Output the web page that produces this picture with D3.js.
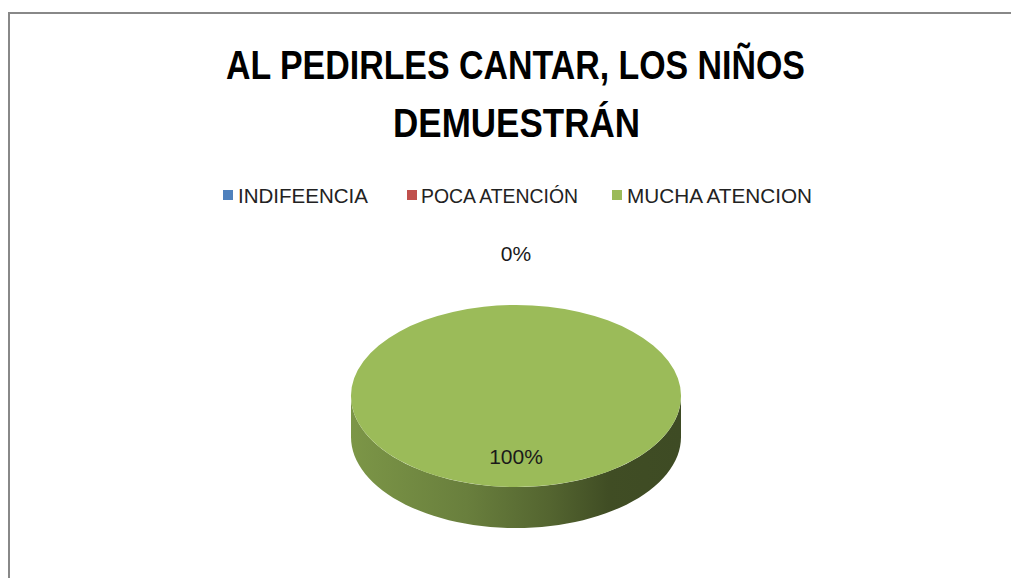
<!DOCTYPE html>
<html>
<head>
<meta charset="utf-8">
<script src="https://cdn.jsdelivr.net/npm/d3@7"></script>
<style>
  body { margin: 0; background: #fff; }
  text { font-family: "Liberation Sans Narrow", "Liberation Sans", sans-serif; }
</style>
</head>
<body>
<div class="chart"></div>
<script>
var svgWidth = 1011;
var svgHeight = 578;

// chart data
var categories = ["INDIFEENCIA", "POCA ATENCIÓN", "MUCHA ATENCION"];
var values = [0, 0, 100];
var colors = ["#4F81BD", "#C0504D", "#9BBB59"];
var titleLines = ["AL PEDIRLES CANTAR, LOS NIÑOS", "DEMUESTRÁN"];

var svg = d3.select(".chart")
  .append("svg")
  .attr("width", svgWidth)
  .attr("height", svgHeight);

svg.append("rect")
  .attr("width", svgWidth)
  .attr("height", svgHeight)
  .attr("fill", "#fff");

// frame (top and left edges only visible)
svg.append("path")
  .attr("d", "M9,578 V13 H1011")
  .attr("fill", "none")
  .attr("stroke", "#888")
  .attr("stroke-width", 2);

// title
var titleSpec = [
  { y: 79, x0: 226, x1: 805 },
  { y: 137, x0: 393, x1: 640 }
];
svg.selectAll(".title")
  .data(titleLines)
  .enter()
  .append("text")
  .attr("class", "title")
  .attr("x", (d, i) => titleSpec[i].x0)
  .attr("y", (d, i) => titleSpec[i].y)
  .attr("textLength", (d, i) => titleSpec[i].x1 - titleSpec[i].x0)
  .attr("lengthAdjust", "spacingAndGlyphs")
  .style("font-size", "41px")
  .style("font-weight", "bold")
  .attr("fill", "#000")
  .text(d => d);

// legend
var legendSpec = [
  { sx: 223, tx: 238, tw: 130 },
  { sx: 407, tx: 421, tw: 157 },
  { sx: 612, tx: 627, tw: 185 }
];
var legend = svg.append("g");
legend.selectAll("rect")
  .data(categories)
  .enter()
  .append("rect")
  .attr("x", (d, i) => legendSpec[i].sx)
  .attr("y", 190)
  .attr("width", 10)
  .attr("height", 10)
  .attr("fill", (d, i) => colors[i]);
legend.selectAll("text")
  .data(categories)
  .enter()
  .append("text")
  .attr("x", (d, i) => legendSpec[i].tx)
  .attr("y", 203)
  .attr("textLength", (d, i) => legendSpec[i].tw)
  .attr("lengthAdjust", "spacingAndGlyphs")
  .style("font-size", "21px")
  .attr("fill", "#222")
  .text(d => d);

// 3D pie geometry
var cx = 516, cy = 396, rx = 165, ry = 91, depth = 41;
var pie = d3.pie().sort(null).value(d => d);
var slices = pie(values);

// side shading: lighter on the left, dark olive on the right
var shade = [
  { o: "0%", k: 0.80 },
  { o: "35%", k: 0.68 },
  { o: "60%", k: 0.54 },
  { o: "78%", k: 0.41 },
  { o: "100%", k: 0.40 }
];
var defs = svg.append("defs");
colors.forEach(function (c, i) {
  var base = d3.rgb(c);
  var g = defs.append("linearGradient")
    .attr("id", "side" + i)
    .attr("gradientUnits", "userSpaceOnUse")
    .attr("x1", cx - rx).attr("x2", cx + rx)
    .attr("y1", 0).attr("y2", 0);
  shade.forEach(function (s) {
    g.append("stop")
      .attr("offset", s.o)
      .attr("stop-color", d3.rgb(base.r * s.k, base.g * s.k, base.b * s.k));
  });
});

function pt(a, dy) {
  return [cx + rx * Math.sin(a), cy - ry * Math.cos(a) + (dy || 0)];
}

// side walls: only the front half (angles between pi/2 and 3pi/2) is visible
var sides = svg.append("g");
slices.forEach(function (s, i) {
  var a0 = Math.max(s.startAngle, Math.PI / 2);
  var a1 = Math.min(s.endAngle, 3 * Math.PI / 2);
  if (a1 <= a0) return;
  var n = 60, top = [], bot = [];
  for (var k = 0; k <= n; k++) {
    var a = a0 + (a1 - a0) * k / n;
    top.push(pt(a));
    bot.push(pt(a, depth));
  }
  var pts = top.concat(bot.reverse());
  sides.append("path")
    .attr("d", d3.line()(pts) + "Z")
    .attr("fill", "url(#side" + i + ")");
});

// top faces
var arc = d3.arc().innerRadius(0).outerRadius(rx);
svg.append("g")
  .attr("transform", `translate(${cx},${cy}) scale(1,${ry / rx})`)
  .selectAll("path")
  .data(slices)
  .enter()
  .append("path")
  .attr("d", arc)
  .attr("fill", (d, i) => colors[i]);

// data labels (labels landing on the same spot are drawn once)
var total = d3.sum(values);
function labelPos(d) {
  var m = (d.startAngle + d.endAngle) / 2;
  var r1 = d.value === 0 ? rx + 50 : rx * 0.67;
  var r2 = d.value === 0 ? ry + 51 : ry * 0.67;
  return [cx + r1 * Math.sin(m), cy - r2 * Math.cos(m) + 7];
}
var seen = {};
var labelData = slices.filter(function (d) {
  var p = labelPos(d);
  var key = Math.round(p[0]) + "," + Math.round(p[1]);
  if (seen[key]) return false;
  seen[key] = true;
  return true;
});
svg.append("g")
  .selectAll("text")
  .data(labelData)
  .enter()
  .append("text")
  .attr("text-anchor", "middle")
  .style("font-size", "21px")
  .style("font-weight", "normal")
  .attr("fill", "#1a1a1a")
  .attr("x", d => labelPos(d)[0])
  .attr("y", d => labelPos(d)[1])
  .text(d => Math.round(d.value / total * 100) + "%");
</script>
</body>
</html>
